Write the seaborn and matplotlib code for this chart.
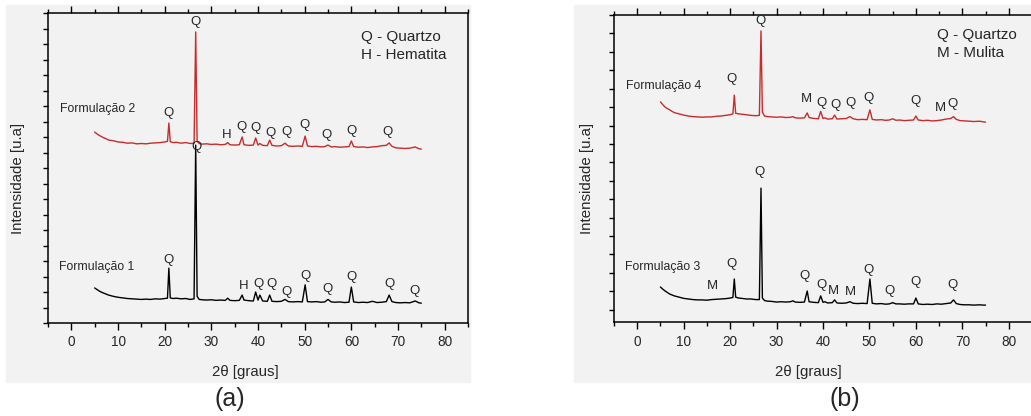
"""DRX das formulacoes 1-4 (Quartzo, Hematita, Mulita)"""
import matplotlib
matplotlib.use("Agg")
import matplotlib.pyplot as plt
from matplotlib.patches import Rectangle
from matplotlib.ticker import MultipleLocator
import seaborn as sns

# 2theta grid shared by all four diffractograms
two_theta = [5, 5.5, 6, 6.5, 7, 7.5, 8, 9, 10, 11, 12, 13, 14, 15, 16, 17, 18, 19, 20,
             20.6, 20.9, 21.2, 21.8, 22.5, 23.5, 24.5, 25.5, 26.3, 26.65, 26.95, 27.4,
             28, 29, 30, 31, 32, 33, 33.5, 34, 35, 36, 36.6, 37, 38, 39, 39.5, 40, 40.4, 41, 42,
             42.5, 43, 44, 45, 45.8, 46.5, 47.5, 48.5, 49.5, 50.1, 50.6,
             51.5, 52.5, 53.5, 54.3, 55, 55.7, 56.5, 57.5, 58.5, 59.5, 60, 60.5, 61.5, 62.5,
             63.5, 64.5, 65.5, 66.5, 67.5, 68.1, 68.7, 69.5, 70.5, 71.5, 72.5, 73.7, 74.5, 75]

# (a) intensities [u.a]
form2 = [61.6, 61.0, 60.5, 60.1, 59.7, 59.4, 59.0, 58.8, 58.4, 58.3, 58.0, 58.1, 57.8, 57.9, 57.8, 58.0, 58.1, 58.2, 58.4,
         58.6, 64.5, 58.5, 58.2, 58.3, 58.0, 58.2, 57.9, 58.0, 93.9, 58.6, 57.9,
         57.7, 57.8, 57.6, 57.7, 57.5, 57.6, 58.2, 57.5, 57.4, 57.5, 60.0, 57.5, 57.3, 57.4, 59.7, 57.4, 57.9, 57.3, 57.2,
         59.0, 57.3, 57.1, 57.2, 58.0, 57.1, 57.0, 57.1, 57.0, 60.3, 57.1,
         56.9, 57.0, 56.8, 56.9, 57.4, 56.8, 56.9, 56.7, 56.8, 56.9, 58.7, 56.9, 56.7, 56.8,
         56.6, 56.8, 56.9, 57.2, 57.3, 58.1, 57.0, 56.5, 56.4, 56.3, 56.4, 56.8, 56.2, 56.1]
form1 = [11.3, 10.8, 10.3, 9.9, 9.6, 9.3, 9.0, 8.6, 8.3, 8.1, 7.9, 7.8, 7.7, 7.6, 7.7, 7.6, 7.8, 7.7, 7.9,
         8.0, 17.7, 8.1, 7.9, 8.0, 7.8, 7.9, 7.6, 7.8, 57.4, 8.6, 7.6,
         7.5, 7.4, 7.5, 7.3, 7.4, 7.3, 8.0, 7.3, 7.2, 7.3, 9.0, 7.4, 7.2, 7.1, 10.0, 7.4, 9.0, 7.1, 7.0,
         9.0, 7.0, 6.9, 7.0, 7.6, 6.9, 6.8, 6.9, 6.8, 12.3, 6.9,
         6.8, 6.9, 6.7, 6.8, 7.6, 6.8, 6.7, 6.8, 6.6, 6.7, 11.6, 6.8, 6.6, 6.7,
         6.6, 7.0, 6.6, 6.7, 6.9, 9.0, 6.9, 6.6, 6.5, 6.6, 6.5, 7.1, 6.5, 6.4]

# (b) intensities [u.a]
form4 = [71.7, 70.8, 70.0, 69.5, 69.1, 68.6, 68.2, 67.8, 67.4, 67.1, 66.9, 66.8, 66.7, 66.8, 66.8, 67.0, 67.1, 67.3, 67.5,
         67.8, 73.9, 68.0, 67.8, 67.7, 67.5, 67.3, 67.2, 67.3, 94.8, 68.4, 67.1,
         66.9, 66.8, 66.7, 66.8, 66.6, 66.7, 66.9, 66.5, 66.4, 66.5, 68.1, 66.6, 66.3, 66.2, 68.6, 66.3, 66.5, 66.1, 66.2,
         67.4, 66.1, 66.2, 66.3, 66.9, 66.2, 65.9, 66.0, 65.9, 69.1, 66.0,
         65.8, 65.9, 65.7, 65.8, 66.2, 65.7, 65.8, 65.6, 65.7, 65.8, 67.1, 65.8, 65.6, 65.7,
         65.5, 65.6, 65.8, 66.1, 66.3, 66.9, 66.0, 65.6, 65.5, 65.4, 65.3, 65.4, 65.2, 65.1]
form3 = [11.4, 10.7, 10.1, 9.6, 9.1, 8.8, 8.5, 8.1, 7.7, 7.5, 7.3, 7.2, 7.2, 7.1, 7.3, 7.4, 7.5, 7.6, 7.8,
         8.0, 14.0, 8.1, 7.8, 7.7, 7.5, 7.5, 7.3, 7.3, 43.6, 7.8, 7.0,
         6.8, 6.7, 6.5, 6.6, 6.5, 6.6, 6.9, 6.5, 6.4, 6.5, 10.1, 6.6, 6.4, 6.3, 8.5, 6.4, 6.6, 6.2, 6.3,
         7.2, 6.2, 6.1, 6.2, 6.6, 6.1, 6.0, 6.1, 6.0, 14.0, 6.1,
         5.9, 6.0, 5.8, 5.9, 6.3, 5.9, 5.9, 5.8, 5.9, 5.9, 7.8, 5.9, 5.7, 5.8,
         5.7, 5.9, 5.8, 6.0, 6.2, 7.2, 6.0, 5.7, 5.6, 5.6, 5.5, 5.6, 5.5, 5.5]

# phase tags (position, height, letter)
tag_x2 = [20.9, 26.6, 33.2, 36.5, 39.4, 42.6, 46.0, 49.9, 54.6, 60.0, 67.8]
tag_y2 = [67.7, 97.1, 60.6, 63.2, 62.9, 61.3, 61.6, 63.9, 60.6, 61.9, 61.6]
tag_t2 = ["Q", "Q", "H", "Q", "Q", "Q", "Q", "Q", "Q", "Q", "Q"]
tag_x1 = [20.9, 26.8, 36.9, 40.1, 42.8, 46.1, 50.2, 54.8, 60.1, 68.2, 73.6]
tag_y1 = [20.3, 56.8, 11.9, 12.6, 12.6, 10.0, 15.2, 11.0, 14.8, 12.6, 10.3]
tag_t1 = ["Q", "Q", "H", "Q", "Q", "Q", "Q", "Q", "Q", "Q", "Q"]
tag_x4 = [20.3, 26.6, 36.5, 39.7, 42.6, 46.0, 49.9, 60.0, 65.2, 67.9]
tag_y4 = [79.2, 98.0, 72.6, 71.3, 70.7, 71.3, 73.0, 72.0, 69.7, 71.0]
tag_t4 = ["Q", "Q", "M", "Q", "Q", "Q", "Q", "Q", "M", "Q"]
tag_x3 = [16.2, 20.3, 26.3, 36.0, 39.6, 42.2, 46.0, 49.9, 54.4, 60.0, 67.9]
tag_y3 = [11.7, 18.9, 48.9, 15.0, 12.1, 10.1, 9.8, 16.9, 10.1, 13.0, 12.1]
tag_t3 = ["M", "Q", "Q", "Q", "Q", "M", "M", "Q", "Q", "Q", "Q"]

sns.set_style("ticks")
plt.rcParams["font.family"] = ["Liberation Sans", "DejaVu Sans"]
bg = "#f2f2f2"
red = "#c82c2c"

fig = plt.figure(figsize=(10.31, 4.16), dpi=100)
W, H = 1031, 416

# grey panels behind each graph
for x0, x1 in [(6, 470), (574, 1031)]:
    fig.patches.append(Rectangle((x0 / W, 1 - 382 / H), (x1 - x0) / W, 377 / H,
                                 transform=fig.transFigure, color=bg, zorder=-10))

ax_a = fig.add_axes([48 / W, 1 - 323 / H, 420 / W, 310 / H])
ax_b = fig.add_axes([614 / W, 1 - 322 / H, 418 / W, 307 / H])


def draw_panel(ax, top, bottom, name_top, name_bot, ytop, ybot, tags, legend, ystep, yoff):
    sns.lineplot(x=two_theta, y=top, ax=ax, color=red, lw=1.0, sort=False, estimator=None)
    sns.lineplot(x=two_theta, y=bottom, ax=ax, color="black", lw=1.0, sort=False, estimator=None)
    for tx, ty, tt in tags:
        for x, y, t in zip(tx, ty, tt):
            ax.text(x, y, t, fontsize=9.5, ha="center", va="center")
    ax.text(-2.5, ytop, name_top, fontsize=8.8, ha="left", va="center")
    ax.text(-2.7, ybot, name_bot, fontsize=8.8, ha="left", va="center")
    ax.text(legend[0], legend[1], legend[2], fontsize=11, ha="left", va="center")
    ax.text(legend[0], legend[1] - 5.9, legend[3], fontsize=11, ha="left", va="center")
    ax.set_facecolor(bg)
    ax.set_xlim(-5, 85)
    ax.set_ylim(0, 100)
    ax.xaxis.set_major_locator(MultipleLocator(10))
    ax.xaxis.set_minor_locator(MultipleLocator(5))
    ax.yaxis.set_major_locator(MultipleLocator(ystep, offset=yoff))
    ax.tick_params(which="both", direction="out", top=True, right=False,
                   labelleft=False, color="black", width=1)
    ax.tick_params(axis="x", which="major", length=5, labelsize=9.8, pad=4)
    ax.tick_params(axis="x", which="minor", length=3)
    ax.tick_params(axis="y", which="major", length=3.5)
    for s in ax.spines.values():
        s.set_visible(True)
        s.set_linewidth(1.1)
        s.set_color("black")
    ax.set_xlabel("")
    ax.set_ylabel("")


draw_panel(ax_a, form2, form1, "Formulação 2", "Formulação 1", 69.0, 18.1,
           [(tag_x2, tag_y2, tag_t2), (tag_x1, tag_y1, tag_t1)],
           (62, 92.3, "Q - Quartzo", "H - Hematita"), 5, 0)
draw_panel(ax_b, form4, form3, "Formulação 4", "Formulação 3", 76.9, 17.9,
           [(tag_x4, tag_y4, tag_t4), (tag_x3, tag_y3, tag_t3)],
           (64.6, 93.5, "Q - Quartzo", "M - Mulita"), 6, 4)
ax_b.spines["right"].set_visible(False)

for cx, lx in [(245, 18), (808, 587)]:
    fig.text(cx / W, 1 - 372 / H, "2θ [graus]", fontsize=10.8, ha="center", va="center")
    fig.text(lx / W, 1 - 178 / H, "Intensidade [u.a]", fontsize=10.8, rotation=90,
             ha="center", va="center")
fig.text(230 / W, 1 - 399 / H, "(a)", fontsize=18, ha="center", va="center")
fig.text(845 / W, 1 - 399 / H, "(b)", fontsize=18, ha="center", va="center")

fig.savefig("out.png", dpi=100)
